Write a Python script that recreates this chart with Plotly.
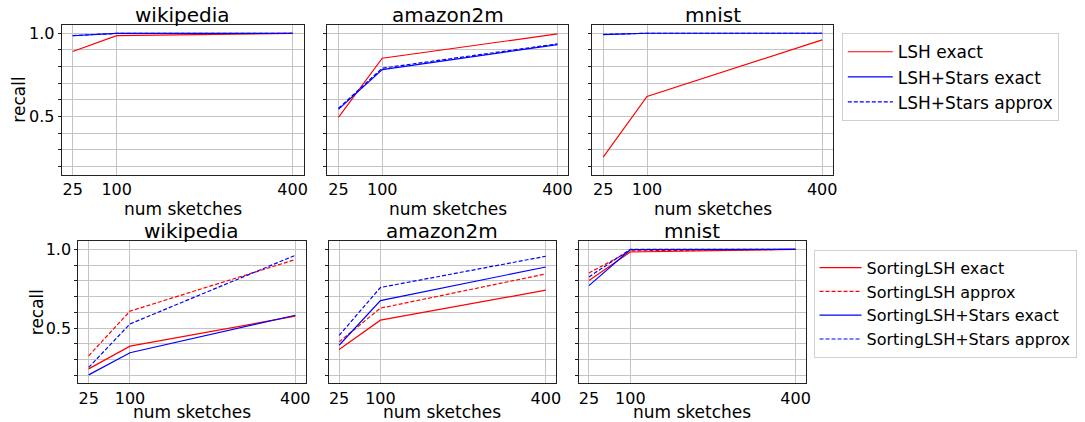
import plotly.graph_objects as go

# ---------------- data ----------------
sketches = [25, 100, 400]
datasets = ["wikipedia", "amazon2m", "mnist"]
x_tick_labels = ["25", "100", "400"]
y_ticks = [0.2, 0.3, 0.4, 0.5, 0.6, 0.7, 0.8, 0.9, 1.0]
y_tick_labels = ["", "", "", "0.5", "", "", "", "", "1.0"]

# top row
lsh_exact_wiki = [0.89, 0.986, 0.999]
lsh_exact_amazon = [0.494, 0.85, 0.996]
lsh_exact_mnist = [0.255, 0.62, 0.96]
lsh_stars_exact_wiki = [0.985, 0.999, 1.0]
lsh_stars_exact_amazon = [0.542, 0.781, 0.932]
lsh_stars_exact_mnist = [0.992, 1.0, 1.0]
lsh_stars_approx_wiki = [0.986, 0.999, 1.0]
lsh_stars_approx_amazon = [0.548, 0.79, 0.936]
lsh_stars_approx_mnist = [0.993, 1.0, 1.0]

# bottom row
sorting_exact_wiki = [0.242, 0.386, 0.576]
sorting_exact_amazon = [0.365, 0.551, 0.741]
sorting_exact_mnist = [0.802, 0.983, 1.0]
sorting_approx_wiki = [0.325, 0.608, 0.935]
sorting_approx_amazon = [0.413, 0.627, 0.844]
sorting_approx_mnist = [0.85, 0.99, 1.0]
sorting_stars_exact_wiki = [0.204, 0.344, 0.582]
sorting_stars_exact_amazon = [0.392, 0.675, 0.888]
sorting_stars_exact_mnist = [0.77, 0.998, 1.0]
sorting_stars_approx_wiki = [0.251, 0.527, 0.962]
sorting_stars_approx_amazon = [0.454, 0.758, 0.956]
sorting_stars_approx_mnist = [0.825, 1.0, 1.0]

top_series = [
    ("LSH exact", "#ff0000", "solid", [lsh_exact_wiki, lsh_exact_amazon, lsh_exact_mnist]),
    ("LSH+Stars exact", "#0000ff", "solid", [lsh_stars_exact_wiki, lsh_stars_exact_amazon, lsh_stars_exact_mnist]),
    ("LSH+Stars approx", "#0000ff", "4px,2px", [lsh_stars_approx_wiki, lsh_stars_approx_amazon, lsh_stars_approx_mnist]),
]
bottom_series = [
    ("SortingLSH exact", "#ff0000", "solid", [sorting_exact_wiki, sorting_exact_amazon, sorting_exact_mnist]),
    ("SortingLSH approx", "#ff0000", "4px,2px", [sorting_approx_wiki, sorting_approx_amazon, sorting_approx_mnist]),
    ("SortingLSH+Stars exact", "#0000ff", "solid", [sorting_stars_exact_wiki, sorting_stars_exact_amazon, sorting_stars_exact_mnist]),
    ("SortingLSH+Stars approx", "#0000ff", "4px,2px", [sorting_stars_approx_wiki, sorting_stars_approx_amazon, sorting_stars_approx_mnist]),
]

# ---------------- layout (pixels in the 1085x422 window) ----------------
W, H = 1085, 422
FONT = "DejaVu Sans"
top_x = [(62, 305), (329, 571), (595, 837)]
top_y = (24, 174)
bot_x = [(78.7, 307), (330.3, 558.7), (581.3, 809.7)]
bot_y = (241, 383.3)
xlabel_gap = [34, 29]

def fx(px):
    return px / W

def fy(py):
    return 1 - py / H

fig = go.Figure()
layout = dict(
    width=W, height=H,
    margin=dict(l=0, r=0, t=0, b=0),
    paper_bgcolor="white", plot_bgcolor="white",
    font=dict(family=FONT, color="black", size=16),
    annotations=[],
)

rows = [(top_x, top_y, top_series, "legend"), (bot_x, bot_y, bottom_series, "legend2")]
idx = 0
for r, (xs, ys, series, leg) in enumerate(rows):
    for c in range(3):
        idx += 1
        xa = "xaxis" if idx == 1 else f"xaxis{idx}"
        ya = "yaxis" if idx == 1 else f"yaxis{idx}"
        xref = "x" if idx == 1 else f"x{idx}"
        yref = "y" if idx == 1 else f"y{idx}"
        layout[xa] = dict(
            domain=[fx(xs[c][0]), fx(xs[c][1])], anchor=yref,
            range=[6.25, 418.75], tickmode="array", tickvals=sketches, ticktext=x_tick_labels,
            showgrid=True, gridcolor="#c4c4c4", gridwidth=1, zeroline=False,
            showline=True, mirror=True, linecolor="#222222", linewidth=1,
            ticks="",
            tickfont=dict(size=16, family=FONT, color="black"),
        )
        layout[ya] = dict(
            domain=[fy(ys[1]), fy(ys[0])], anchor=xref,
            range=[0.15, 1.05], tickmode="array", tickvals=y_ticks,
            ticktext=y_tick_labels if c == 0 else [""] * len(y_ticks),
            showgrid=True, gridcolor="#c4c4c4", gridwidth=1, zeroline=False,
            showline=True, mirror=True, linecolor="#222222", linewidth=1,
            ticks="outside", ticklen=3, tickcolor="#222222",
            tickfont=dict(size=16, family=FONT, color="black"),
        )
        for name, color, dash, vals in series:
            fig.add_trace(go.Scatter(
                x=sketches, y=vals[c], mode="lines", name=name,
                line=dict(color=color, width=1.2, dash=dash),
                xaxis=xref, yaxis=yref, legend=leg, showlegend=(c == 0),
            ))
        cx = (xs[c][0] + xs[c][1]) / 2
        # subplot title
        layout["annotations"].append(dict(
            text=datasets[c], x=fx(cx), y=fy(ys[0] - 10), xref="paper", yref="paper",
            xanchor="center", yanchor="middle", showarrow=False,
            font=dict(size=20, family=FONT, color="black"),
        ))
        # x label
        layout["annotations"].append(dict(
            text="num sketches", x=fx(cx), y=fy(ys[1] + xlabel_gap[r]), xref="paper", yref="paper",
            xanchor="center", yanchor="middle", showarrow=False,
            font=dict(size=17, family=FONT, color="black"),
        ))
    # y label
    layout["annotations"].append(dict(
        text="recall", x=fx(19 if r == 0 else 38), y=fy((ys[0] + ys[1]) / 2),
        xref="paper", yref="paper", xanchor="center", yanchor="middle",
        textangle=-90, showarrow=False,
        font=dict(size=17, family=FONT, color="black"),
    ))

layout["legend"] = dict(
    x=fx(845.7), y=fy(32.3), xanchor="left", yanchor="top",
    bordercolor="#d0d0d0", borderwidth=1, bgcolor="white",
    font=dict(size=17, family=FONT, color="black"),
    tracegroupgap=0, itemwidth=45,
)
layout["legend2"] = dict(
    x=fx(817.3), y=fy(249.3), xanchor="left", yanchor="top",
    bordercolor="#d0d0d0", borderwidth=1, bgcolor="white",
    font=dict(size=16, family=FONT, color="black"),
    tracegroupgap=0, itemwidth=42,
)
fig.update_layout(**layout)
fig.write_html("out.html", config={"displayModeBar": False},
               post_script="document.body.style.margin='0';")
